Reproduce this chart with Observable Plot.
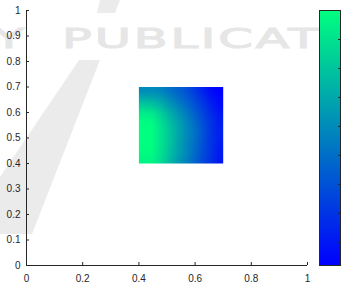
<!DOCTYPE html>
<html>
<head>
<meta charset="utf-8">
<script src="https://cdn.jsdelivr.net/npm/d3@7"></script>
<script src="https://cdn.jsdelivr.net/npm/@observablehq/plot@0.6"></script>
<style>
  html, body { margin: 0; padding: 0; background: #fff; }
  #wrap { position: relative; width: 342px; height: 284px; overflow: hidden; }
  #wrap > * { position: absolute; left: 0; top: 0; }
  .wm { background: #ebebeb; width: 342px; height: 284px; }
  .wmtext { font-family: "DejaVu Sans", sans-serif; font-weight: normal; font-size: 26px; line-height: 26px;
            color: #e6e6e6; white-space: nowrap; letter-spacing: 1.5px; -webkit-text-stroke: 1px #e6e6e6; }
</style>
</head>
<body>
<div id="wrap">
  <div class="wm" style="clip-path: polygon(100px 0px, 120px 0px, 115px 13px, 97px 13px);"></div>
  <div class="wm" style="clip-path: polygon(79px 60px, 100px 60px, 32px 234px, 0px 234px, 0px 177px);"></div>
  <div class="wmtext" style="top:26px; left:62px; transform: scaleX(1.9); transform-origin: 0 0;">PUBLICATI</div>
  <div class="wmtext" style="top:26px; left:-45px; transform: scaleX(1.9); transform-origin: 0 0;">GY</div>
</div>
<script>
// Axis ticks and labels
const xTicks = [0, 0.2, 0.4, 0.6, 0.8, 1];
const xTickLabels = ["0", "0.2", "0.4", "0.6", "0.8", "1"];
const yTicks = [0, 0.1, 0.2, 0.3, 0.4, 0.5, 0.6, 0.7, 0.8, 0.9, 1];
const yTickLabels = ["0", "0.1", "0.2", "0.3", "0.4", "0.5", "0.6", "0.7", "0.8", "0.9", "1"];

// Heat map extent (data units)
const heatX = [0.4, 0.7];
const heatY = [0.4, 0.7];

// Heat map values, rows from top (y = 0.7) to bottom (y = 0.4), columns left to right
const heatRow0 = [0.50, 0.50, 0.48, 0.42, 0.37, 0.31, 0.23, 0.14, 0.06, 0.02];
const heatRow1 = [0.62, 0.61, 0.57, 0.50, 0.42, 0.35, 0.28, 0.19, 0.10, 0.05];
const heatRow2 = [0.74, 0.72, 0.66, 0.57, 0.49, 0.41, 0.32, 0.23, 0.14, 0.07];
const heatRow3 = [0.84, 0.83, 0.75, 0.64, 0.55, 0.46, 0.36, 0.27, 0.17, 0.10];
const heatRow4 = [0.89, 0.88, 0.79, 0.69, 0.59, 0.50, 0.40, 0.29, 0.20, 0.12];
const heatRow5 = [0.90, 0.90, 0.81, 0.71, 0.61, 0.51, 0.42, 0.31, 0.20, 0.13];
const heatRow6 = [0.90, 0.90, 0.81, 0.71, 0.61, 0.51, 0.42, 0.31, 0.20, 0.13];
const heatRow7 = [0.90, 0.90, 0.81, 0.71, 0.60, 0.50, 0.41, 0.30, 0.20, 0.12];
const heatRow8 = [0.89, 0.89, 0.80, 0.70, 0.59, 0.50, 0.40, 0.29, 0.20, 0.11];
const heatRow9 = [0.87, 0.87, 0.79, 0.68, 0.57, 0.48, 0.38, 0.28, 0.19, 0.10];
const heatRows = [heatRow0, heatRow1, heatRow2, heatRow3, heatRow4, heatRow5, heatRow6, heatRow7, heatRow8, heatRow9];

// Colour scale (winter colormap) and colour bar ticks
const colorDomain = [0.02, 0.9];
const colorRange = ["#0000ff", "#00ff80"];
const colorbarTicks = [0.1, 0.2, 0.3, 0.4, 0.5, 0.6, 0.7, 0.8];

const heatValues = heatRows.flat();
const ink = "#262626";
const colorOpts = { type: "linear", domain: colorDomain, range: colorRange, interpolate: "rgb" };

const main = Plot.plot({
  width: 342, height: 284,
  marginLeft: 26, marginRight: 35, marginTop: 10, marginBottom: 19,
  style: { background: "transparent", fontFamily: "Liberation Sans, Arial, sans-serif", fontSize: "10px", color: ink },
  x: { domain: [0, 1] },
  y: { domain: [0, 1] },
  color: colorOpts,
  marks: [
    Plot.raster(heatValues, { width: heatRow0.length, height: heatRows.length,
      x1: heatX[0], x2: heatX[1], y1: heatY[1], y2: heatY[0] }),
    Plot.ruleX([0], { stroke: ink }),
    Plot.ruleY([0], { stroke: ink }),
    Plot.axisX({ ticks: xTicks, tickFormat: (d, i) => xTickLabels[i], tickSize: -3, tickPadding: 12, label: null, stroke: ink, fill: ink }),
    Plot.axisY({ ticks: yTicks, tickFormat: (d, i) => yTickLabels[i], tickSize: -3, tickPadding: 9, label: null, stroke: ink, fill: ink })
  ]
});

const bar = Plot.plot({
  width: 342, height: 284,
  marginLeft: 319, marginRight: 2, marginTop: 10, marginBottom: 19,
  style: { background: "transparent" },
  x: { domain: [0, 1], axis: null },
  y: { domain: colorDomain },
  color: colorOpts,
  marks: [
    Plot.raster({ x1: 0, x2: 1, y1: colorDomain[0], y2: colorDomain[1], fill: (x, y) => y, pixelSize: 1 }),
    Plot.frame({ stroke: ink }),
    Plot.axisY({ anchor: "right", ticks: colorbarTicks, tickSize: -3, tickFormat: () => "", label: null, stroke: ink })
  ]
});

const wrap = document.getElementById("wrap");
wrap.appendChild(main);
wrap.appendChild(bar);
</script>
</body>
</html>
